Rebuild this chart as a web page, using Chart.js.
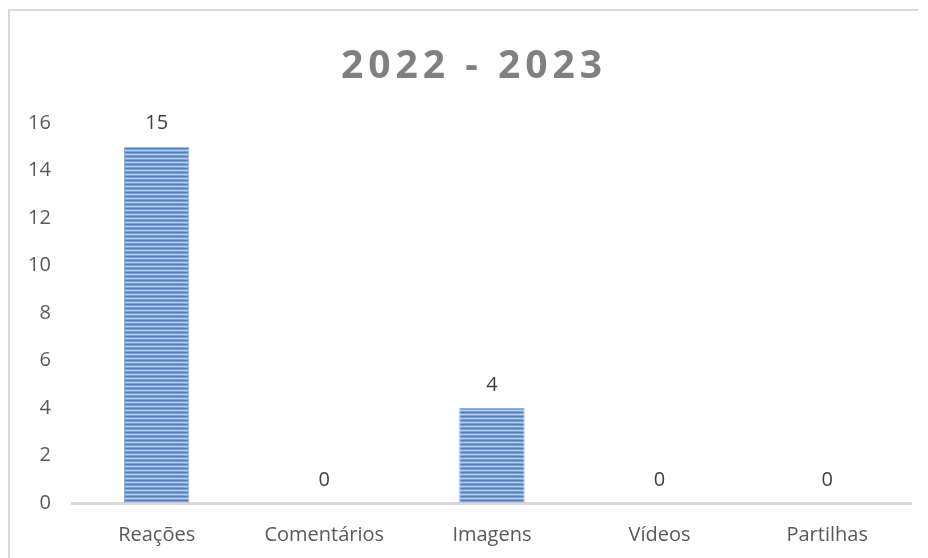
<!DOCTYPE html>
<html>
<head>
<meta charset="utf-8">
<script src="https://cdn.jsdelivr.net/npm/chart.js@4"></script>
<style>
  html, body { margin: 0; padding: 0; background: #fff; }
  #wrap { width: 928px; height: 558px; position: relative; }
</style>
</head>
<body>
<div id="wrap"><canvas id="canvas" width="928" height="558"></canvas></div>
<script>
const categorias = ['Reações', 'Comentários', 'Imagens', 'Vídeos', 'Partilhas'];
const valores = [15, 0, 4, 0, 0];
const titulo = '2022 - 2023';

// listras horizontais das barras
function criarPadrao(ctx) {
    const c = document.createElement('canvas');
    c.width = 4;
    c.height = 4;
    const p = c.getContext('2d');
    p.fillStyle = '#4F81BD';
    p.fillRect(0, 0, 4, 1);
    p.fillStyle = '#7CA1D6';
    p.fillRect(0, 1, 4, 1);
    p.fillStyle = '#BCD0EC';
    p.fillRect(0, 2, 4, 1);
    p.fillStyle = '#7CA1D6';
    p.fillRect(0, 3, 4, 1);
    return ctx.createPattern(c, 'repeat');
}

const moldura = {
    id: 'moldura',
    beforeDraw(chart) {
        const ctx = chart.ctx;
        ctx.save();
        ctx.strokeStyle = '#D9D9D9';
        ctx.lineWidth = 2;
        ctx.beginPath();
        ctx.moveTo(9, 558);
        ctx.lineTo(9, 10);
        ctx.lineTo(918, 10);
        ctx.stroke();
        ctx.restore();
    },
    afterDraw(chart) {
        const ctx = chart.ctx;
        ctx.save();
        ctx.font = 'bold 39px "Open Sans"';
        ctx.fillStyle = '#808080';
        ctx.textAlign = 'center';
        ctx.textBaseline = 'middle';
        ctx.letterSpacing = '5px';
        ctx.fillText(titulo, 474, 67);
        ctx.restore();
    }
};

const rotulos = {
    id: 'rotulos',
    afterDatasetsDraw(chart) {
        const ctx = chart.ctx;
        const meta = chart.getDatasetMeta(0);
        ctx.save();
        ctx.font = '20px "Open Sans"';
        ctx.fillStyle = '#404040';
        ctx.textAlign = 'center';
        ctx.textBaseline = 'middle';
        meta.data.forEach((bar, i) => {
            ctx.fillText(String(valores[i]), bar.x, bar.y - 23);
        });
        ctx.restore();
    }
};

const canvasCTX = document.getElementById('canvas').getContext('2d');

const grafico = new Chart(canvasCTX, {
    type: 'bar',
    data: {
        labels: categorias,
        datasets: [{
            data: valores,
            backgroundColor: criarPadrao(canvasCTX),
            borderColor: '#8FB0DC',
            borderWidth: 1,
            barPercentage: 0.39,
            categoryPercentage: 1
        }]
    },
    options: {
        responsive: false,
        animation: false,
        plugins: {
            legend: { display: false },
            tooltip: { enabled: false }
        },
        layout: {
            padding: { top: 123, bottom: 7, left: 6, right: 17 }
        },
        scales: {
            x: {
                afterFit(scale) { scale.height = 48; },
                grid: { display: false, drawTicks: false },
                border: { color: '#D9D9D9', width: 3 },
                ticks: {
                    color: '#595959',
                    font: { family: 'Open Sans', size: 20 },
                    padding: 20
                }
            },
            y: {
                min: 0,
                max: 16,
                grid: { display: false, drawTicks: false },
                border: { display: false },
                ticks: {
                    stepSize: 2,
                    color: '#595959',
                    font: { family: 'Open Sans', size: 20 },
                    padding: 22
                }
            }
        }
    },
    plugins: [moldura, rotulos]
});
</script>
</body>
</html>
